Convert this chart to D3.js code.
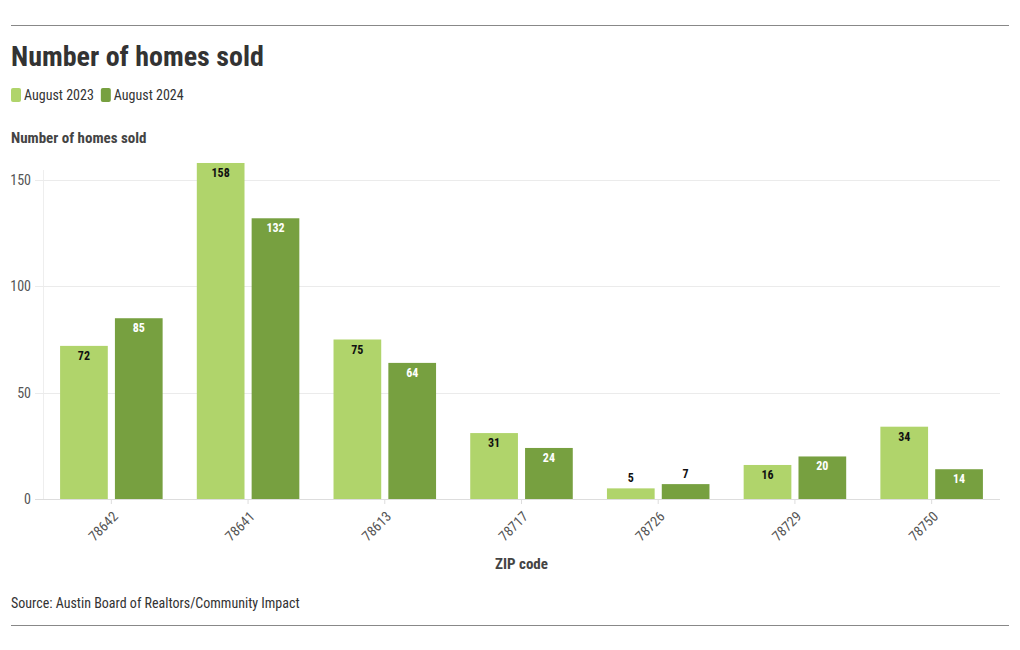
<!DOCTYPE html>
<html>
<head>
<meta charset="utf-8">
<script src="https://cdn.jsdelivr.net/npm/d3@7"></script>
<style>
  body { margin: 0; background: #fff; }
  svg { font-family: "Roboto Condensed", "Liberation Sans Narrow", "DejaVu Sans Condensed", Roboto, sans-serif; }
</style>
</head>
<body>
<svg id="chart" width="1020" height="650"></svg>
<script>
// data
const zips = ["78642", "78641", "78613", "78717", "78726", "78729", "78750"];
const series = ["August 2023", "August 2024"];
const aug2023 = [72, 158, 75, 31, 5, 16, 34];
const aug2024 = [85, 132, 64, 24, 7, 20, 14];
const yTicks = [0, 50, 100, 150];

const colors = ["#b0d46b", "#77a040"];
const labelColors = ["#111", "#fff"];

const svg = d3.select("#chart");
const plot = { left: 43, right: 1000, top: 150, bottom: 499 };

// rules top and bottom
svg.append("line").attr("x1", 11).attr("x2", 1009).attr("y1", 25.5).attr("y2", 25.5)
   .attr("stroke", "#888").attr("stroke-width", 1);
svg.append("line").attr("x1", 11).attr("x2", 1009).attr("y1", 625.5).attr("y2", 625.5)
   .attr("stroke", "#888").attr("stroke-width", 1);

// title
svg.append("text").attr("x", 11).attr("y", 66)
   .style("font-size", "28px").style("font-weight", "bold").style("fill", "#333")
   .text("Number of homes sold");

// legend
let lx = 11;
series.forEach(function(s, i) {
  svg.append("rect").attr("x", lx).attr("y", 88).attr("width", 10).attr("height", 14)
     .attr("rx", 2).style("fill", colors[i]);
  let t = svg.append("text").attr("x", lx + 13).attr("y", 100)
     .style("font-size", "14px").style("fill", "#333").text(s);
  lx += 13 + t.node().getComputedTextLength() + 7;
});

// y axis title
svg.append("text").attr("x", 11).attr("y", 143)
   .style("font-size", "15px").style("font-weight", "bold").style("fill", "#444")
   .text("Number of homes sold");

const y = d3.scaleLinear().domain([0, 150]).range([plot.bottom, 180]);

const x0 = d3.scaleBand().domain(zips).range([plot.left, plot.right])
  .paddingInner(0.25).paddingOuter(0.125);
const x1 = d3.scaleBand().domain(series).range([0, x0.bandwidth()]).paddingInner(0.13);

// grid
svg.append("line").attr("x1", plot.left + 0.5).attr("x2", plot.left + 0.5)
   .attr("y1", 170).attr("y2", plot.bottom).attr("stroke", "#eee");
const grid = svg.append("g");
grid.selectAll("line").data(yTicks).enter().append("line")
  .attr("x1", 35).attr("x2", plot.right)
  .attr("y1", d => Math.round(y(d)) + 0.5).attr("y2", d => Math.round(y(d)) + 0.5)
  .attr("stroke", d => d === 0 ? "#ddd" : "#ebebeb");

// y tick labels
svg.append("g").selectAll("text").data(yTicks).enter().append("text")
  .attr("x", 31).attr("y", d => y(d)).attr("dy", "0.35em")
  .style("text-anchor", "end").style("font-size", "14px").style("fill", "#555")
  .text(d => d);

// bars
const rows = zips.map(function(z, i) { return { zip: z, vals: [aug2023[i], aug2024[i]] }; });
const groups = svg.append("g").selectAll("g").data(rows).enter().append("g")
  .attr("transform", d => "translate(" + x0(d.zip) + ",0)");

groups.selectAll("rect").data(d => d.vals.map((v, i) => ({ s: series[i], v: v, i: i })))
  .enter().append("rect")
  .attr("x", d => x1(d.s)).attr("width", x1.bandwidth())
  .attr("y", d => y(d.v)).attr("height", d => y(0) - y(d.v))
  .style("fill", d => colors[d.i]);

groups.selectAll("text").data(d => d.vals.map((v, i) => ({ s: series[i], v: v, i: i })))
  .enter().append("text")
  .attr("x", d => x1(d.s) + x1.bandwidth() / 2)
  .attr("y", function(d) {
    let h = y(0) - y(d.v);
    return h < 20 ? y(d.v) - 6 : y(d.v) + 14;
  })
  .style("text-anchor", "middle").style("font-size", "12px").style("font-weight", "bold")
  .style("fill", function(d) {
    let h = y(0) - y(d.v);
    return h < 20 ? "#111" : labelColors[d.i];
  })
  .text(d => d.v);

// x ticks and labels
const xt = svg.append("g").selectAll("g").data(zips).enter().append("g")
  .attr("transform", d => "translate(" + (x0(d) + x0.bandwidth() / 2) + "," + plot.bottom + ")");
xt.append("line").attr("y1", 1).attr("y2", 5).attr("stroke", "#ddd");
xt.append("text").attr("transform", "translate(4,15) rotate(-45)")
  .style("text-anchor", "end").attr("dy", "0.35em")
  .style("font-size", "14px").style("fill", "#555").text(d => d);

// x axis title
svg.append("text").attr("x", (plot.left + plot.right) / 2).attr("y", 569)
  .style("text-anchor", "middle").style("font-size", "15px").style("font-weight", "bold")
  .style("fill", "#444").text("ZIP code");

// source
svg.append("text").attr("x", 11).attr("y", 608)
  .style("font-size", "14px").style("fill", "#333")
  .text("Source: Austin Board of Realtors/Community Impact");
</script>
</body>
</html>
